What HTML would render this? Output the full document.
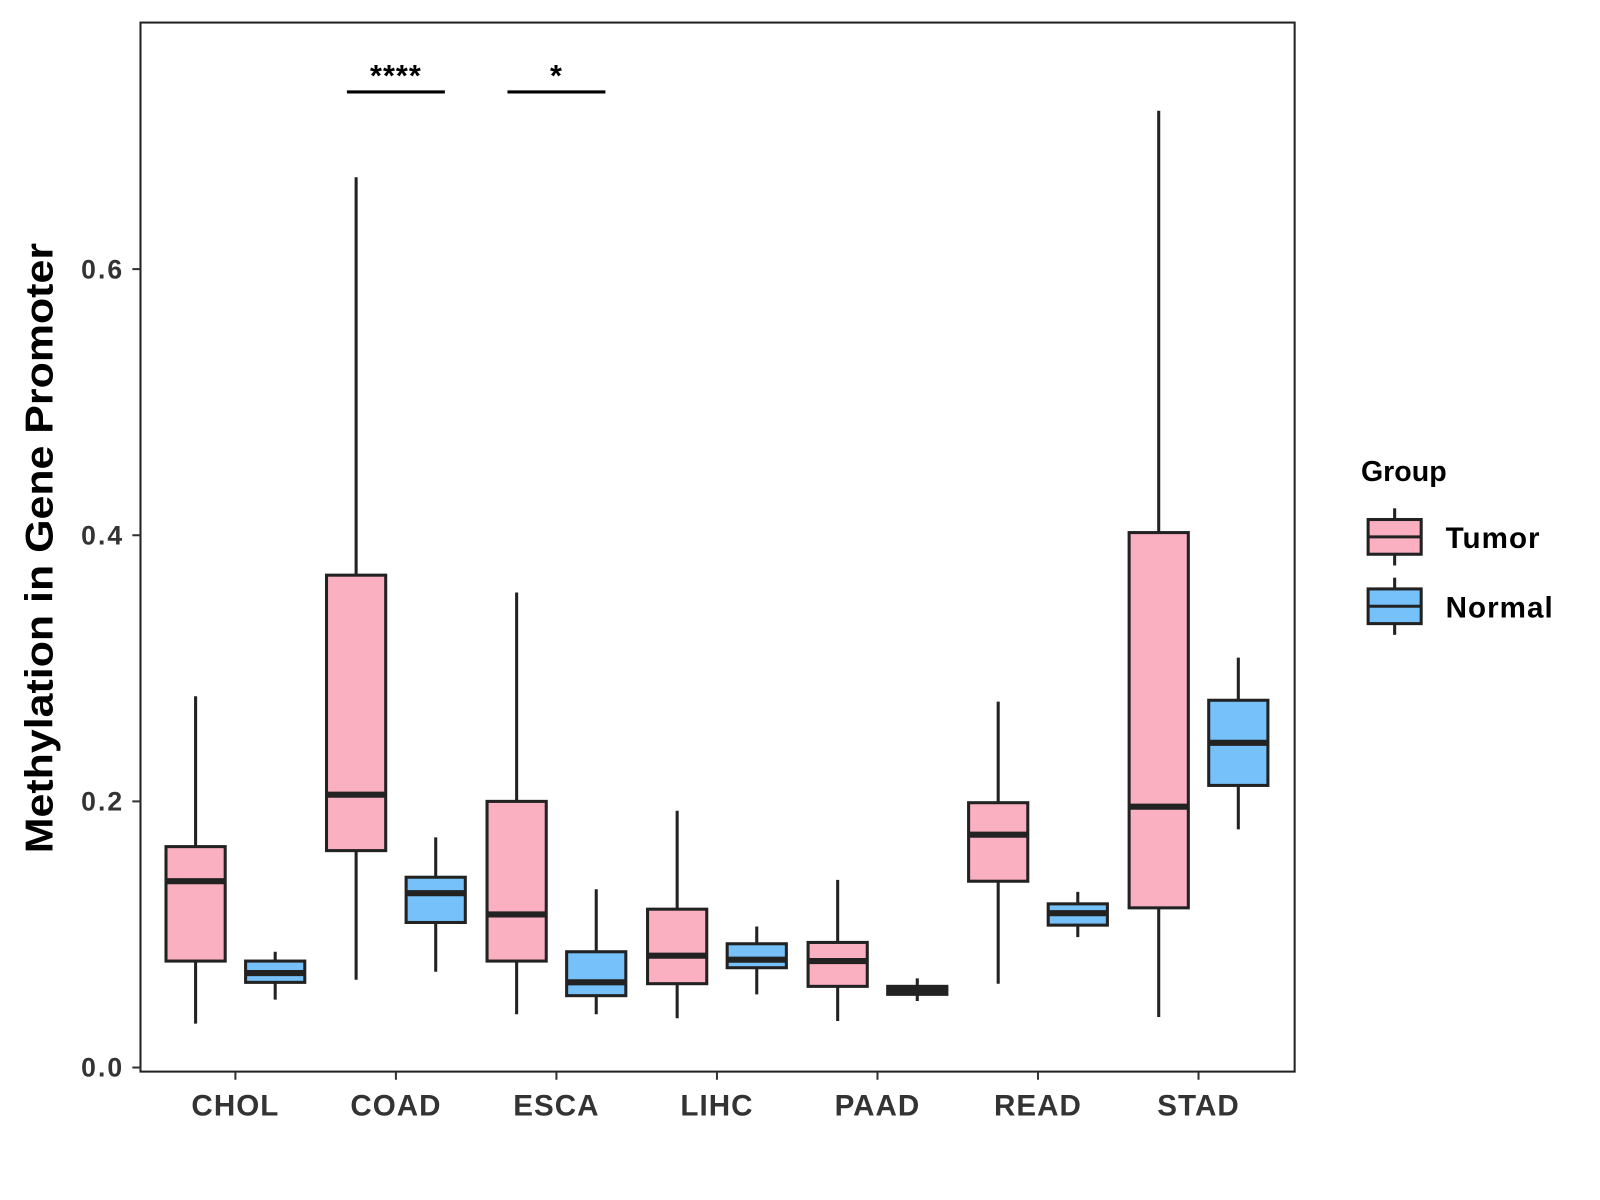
<!DOCTYPE html>
<html><head><meta charset="utf-8"><style>
html,body{margin:0;padding:0;background:#fff;}
svg{display:block;font-family:"Liberation Sans",Arial,sans-serif;}
</style></head><body>
<svg id="chart" width="1600" height="1200" viewBox="0 0 1600 1200">
<g transform="translate(137,22) scale(0.995) translate(-137,-22) scale(1.0256)">
<rect x="137" y="22" width="1131" height="1028" fill="#fff" stroke="#222" stroke-width="2"/>
<g id="marks"></g>
<g id="axes"></g>
<text transform="translate(51,537) rotate(-90)" text-anchor="middle" font-size="38" font-weight="bold" fill="#000" textLength="598" lengthAdjust="spacingAndGlyphs">Methylation in Gene Promoter</text>
<g transform="translate(-1,0)">
<text x="1334" y="471" font-size="28" font-weight="bold" fill="#000">Group</text>
<g>
<line x1="1367" y1="498" x2="1367" y2="554" stroke="#222" stroke-width="3"/>
<rect x="1341" y="509" width="52" height="34" fill="#FBB0C2" stroke="#222" stroke-width="3"/>
<line x1="1341" y1="526" x2="1393" y2="526" stroke="#222" stroke-width="3"/>
<text x="1417" y="537" font-size="29" font-weight="bold" fill="#000" letter-spacing="1">Tumor</text>
</g>
<g>
<line x1="1367" y1="566" x2="1367" y2="622" stroke="#222" stroke-width="3"/>
<rect x="1341" y="577" width="52" height="34" fill="#76C1F9" stroke="#222" stroke-width="3"/>
<line x1="1341" y1="594" x2="1393" y2="594" stroke="#222" stroke-width="3"/>
<text x="1417" y="605" font-size="29" font-weight="bold" fill="#000" letter-spacing="1">Normal</text>
</g>
</g>
</g>
</svg>
<script>
const categories=["CHOL","COAD","ESCA","LIHC","PAAD","READ","STAD"];
// [whiskerMin, q1, median, q3, whiskerMax]
const tumorStats=[[0.033,0.080,0.140,0.166,0.279],[0.066,0.163,0.205,0.370,0.669],[0.040,0.080,0.115,0.200,0.357],[0.037,0.063,0.084,0.119,0.193],[0.035,0.061,0.080,0.094,0.141],[0.063,0.140,0.175,0.199,0.275],[0.038,0.120,0.196,0.402,0.719]];
const normalStats=[[0.051,0.064,0.071,0.080,0.087],[0.072,0.109,0.131,0.143,0.173],[0.040,0.054,0.064,0.087,0.134],[0.055,0.075,0.081,0.093,0.106],[0.050,0.055,0.058,0.061,0.067],[0.098,0.107,0.116,0.123,0.132],[0.179,0.212,0.244,0.276,0.308]];
const yTicks=[0,0.2,0.4,0.6];
const yTickLabels=["0.0","0.2","0.4","0.6"];
const sigCategories=["COAD","ESCA"];
const sigLabels=["****","*"];

const NS="http://www.w3.org/2000/svg";
const y=v=>1046-v*1304;
const x=i=>230+i*157.3;
function mk(tag,attrs,parent){const e=document.createElementNS(NS,tag);for(const k in attrs)e.setAttribute(k,attrs[k]);parent.appendChild(e);return e;}
const marks=document.getElementById('marks'),axes=document.getElementById('axes');
function box(s,cx,fill,name){
  const g=mk('g',{},marks);
  
  
  mk('line',{x1:cx,x2:cx,y1:y(s[4]),y2:y(s[0]),stroke:'#222','stroke-width':3},g);
  mk('rect',{x:cx-29,y:y(s[3]),width:58,height:y(s[1])-y(s[3]),fill:fill,stroke:'#222','stroke-width':3},g);
  mk('line',{x1:cx-29,x2:cx+29,y1:y(s[2]),y2:y(s[2]),stroke:'#222','stroke-width':6},g);
}
categories.forEach((c,i)=>{
  box(tumorStats[i],x(i)-39,'#FBB0C2','box-tumor-'+c.toLowerCase());
  box(normalStats[i],x(i)+39,'#76C1F9','box-normal-'+c.toLowerCase());
  mk('line',{x1:x(i),x2:x(i),y1:1050,y2:1058,stroke:'#333','stroke-width':2},axes);
  const l=mk('text',{x:x(i),y:1093,'text-anchor':'middle','font-size':29,'font-weight':'bold',fill:'#333','letter-spacing':1},axes);
  l.textContent=c;
  
  
});
yTicks.forEach((v,i)=>{
  mk('line',{x1:129,x2:137,y1:y(v),y2:y(v),stroke:'#333','stroke-width':2},axes);
  const l=mk('text',{x:121,y:y(v)+9,'text-anchor':'end','font-size':26,'font-weight':'bold',fill:'#333','letter-spacing':2},axes);
  l.textContent=yTickLabels[i];
  
  
});
sigCategories.forEach((c,k)=>{
  const i=categories.indexOf(c);
  const g=mk('g',{},marks);
  
  
  mk('line',{x1:x(i)-48,x2:x(i)+48,y1:90,y2:90,stroke:'#000','stroke-width':3},g);
  const t=mk('text',{x:x(i),y:84,'text-anchor':'middle','font-size':30,'font-weight':'bold',fill:'#000','letter-spacing':1},g);
  t.textContent=sigLabels[k];
});
</script>
</body></html>
